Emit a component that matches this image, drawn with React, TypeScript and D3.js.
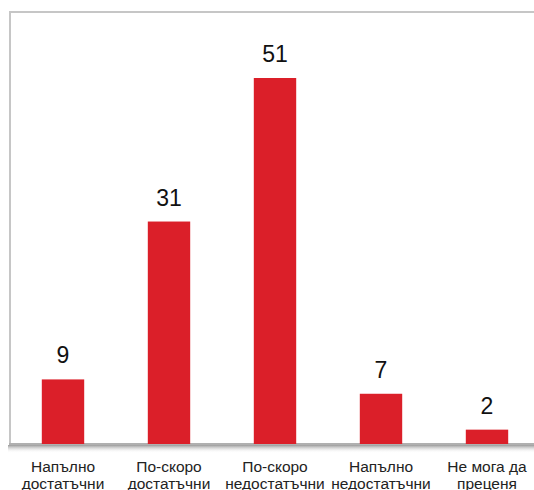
import React from "react";
import * as d3 from "d3";

const categories: string[][] = [
  ["Напълно", "достатъчни"],
  ["По-скоро", "достатъчни"],
  ["По-скоро", "недостатъчни"],
  ["Напълно", "недостатъчни"],
  ["Не мога да", "преценя"],
];
const values: number[] = [9, 31, 51, 7, 2];

const W = 534;
const H = 490;
const left = 10;
const right = 540;
const top = 12;
const baseline = 444;

export default function App() {
  const keys = categories.map((c) => c.join(" "));
  const x = d3.scaleBand<string>().domain(keys).range([left, right]).paddingInner(0.6).paddingOuter(0.3);
  const y = d3.scaleLinear().domain([0, 51]).range([baseline, 78]);
  const font = "'Liberation Sans', Arial, Helvetica, sans-serif";
  return (
    <svg width={W} height={H} style={{ position: "absolute", left: 0, top: 0, background: "#fff" }}>
      <defs>
        <linearGradient id="sh" x1="0" y1="0" x2="0" y2="1">
          <stop offset="0" stopColor="#777" stopOpacity={0.75} />
          <stop offset="1" stopColor="#fff" stopOpacity={0} />
        </linearGradient>
      </defs>
      <rect x={left - 2} y={baseline + 1} width={right - left + 4} height={8} fill="url(#sh)" />
      <rect x={left} y={top} width={right - left} height={baseline - top} fill="#fff" stroke="#c6c6c6" strokeWidth={2} />
      <line x1={left - 1} x2={right} y1={baseline} y2={baseline} stroke="#a8a8a8" strokeWidth={1.5} />
      {values.map((v, i) => {
        const k = keys[i];
        const bx = x(k)!;
        const bw = x.bandwidth();
        return (
          <g key={k}>
            <rect x={bx} y={y(v)} width={bw} height={baseline - y(v)} fill="#db1f29" />
            <text x={bx + bw / 2} y={y(v) - 16} textAnchor="middle" fontFamily={font} fontSize={23} fill="#111">
              {v}
            </text>
            {categories[i].map((line, j) => (
              <text key={j} x={bx + bw / 2} y={472 + j * 17} textAnchor="middle" fontFamily={font} fontSize={15.5} fill="#222">
                {line}
              </text>
            ))}
          </g>
        );
      })}
    </svg>
  );
}
